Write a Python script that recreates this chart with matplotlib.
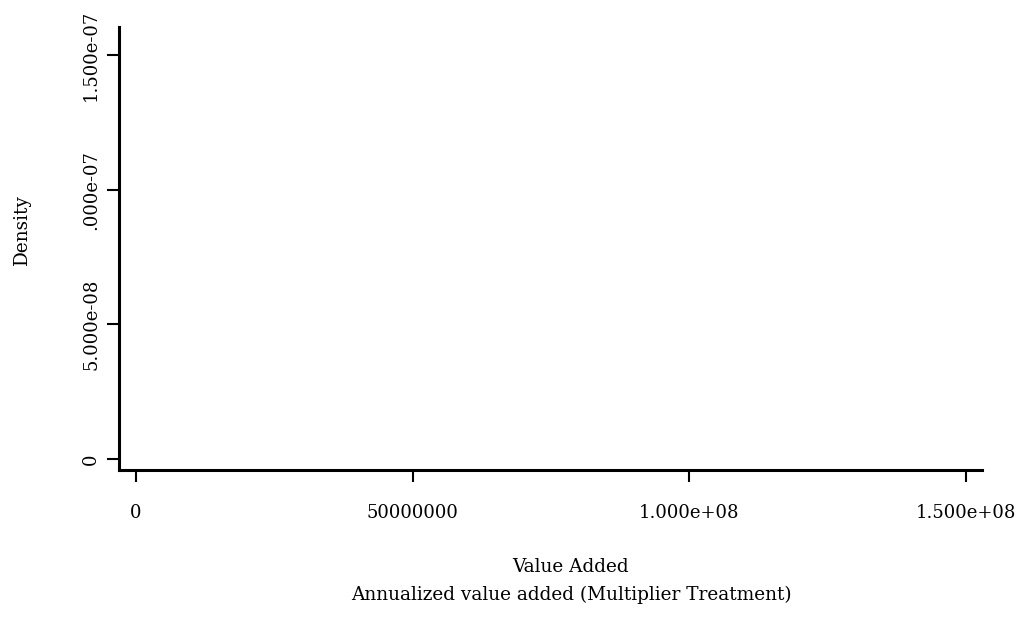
import matplotlib
matplotlib.use('Agg')
import matplotlib.pyplot as plt

# axis ticks and labels for the (empty) kernel density panel
x_ticks = [0, 50000000, 100000000, 150000000]
x_tick_labels = ['0', '50000000', '1.000e+08', '1.500e+08']
y_ticks = [0, 5e-08, 1e-07, 1.5e-07]
y_tick_labels = ['0', '5.000e-08', '.000e-07', '1.500e-07']
x_range = (-3.07e6, 1.529e8)
y_range = (-4.07e-9, 1.604e-07)

x_title = 'Value Added'
note = 'Annualized value added (Multiplier Treatment)'
y_title = 'Density'

plt.rcParams['font.family'] = ['DejaVu Serif']
W, H = 1021, 622
fig = plt.figure(figsize=(W / 100, H / 100), dpi=100)
ax = fig.add_axes([119 / W, (H - 470) / H, (982 - 119) / W, (470 - 27) / H])

ax.set_xlim(*x_range)
ax.set_ylim(*y_range)
ax.spines['top'].set_visible(False)
ax.spines['right'].set_visible(False)
for s in ('left', 'bottom'):
    ax.spines[s].set_linewidth(2.2)

ax.set_xticks(x_ticks)
ax.set_xticklabels(x_tick_labels, fontsize=13)
ax.set_yticks(y_ticks)
ax.set_yticklabels(y_tick_labels, fontsize=13, rotation=90, va='center')
ax.tick_params(axis='both', length=8.5, width=1.5)
ax.tick_params(axis='x', pad=16)
ax.tick_params(axis='y', pad=5)

# titles placed in figure coordinates (pixels from top-left)
fig.text(22 / W, 1 - 230 / H, y_title, fontsize=13.3, rotation=90,
         ha='center', va='center')
fig.text(571 / W, 1 - 572 / H, x_title, fontsize=13.3, ha='center', va='baseline')
fig.text(571 / W, 1 - 600 / H, note, fontsize=13.3, ha='center', va='baseline')

fig.savefig('out.png', dpi=100)
